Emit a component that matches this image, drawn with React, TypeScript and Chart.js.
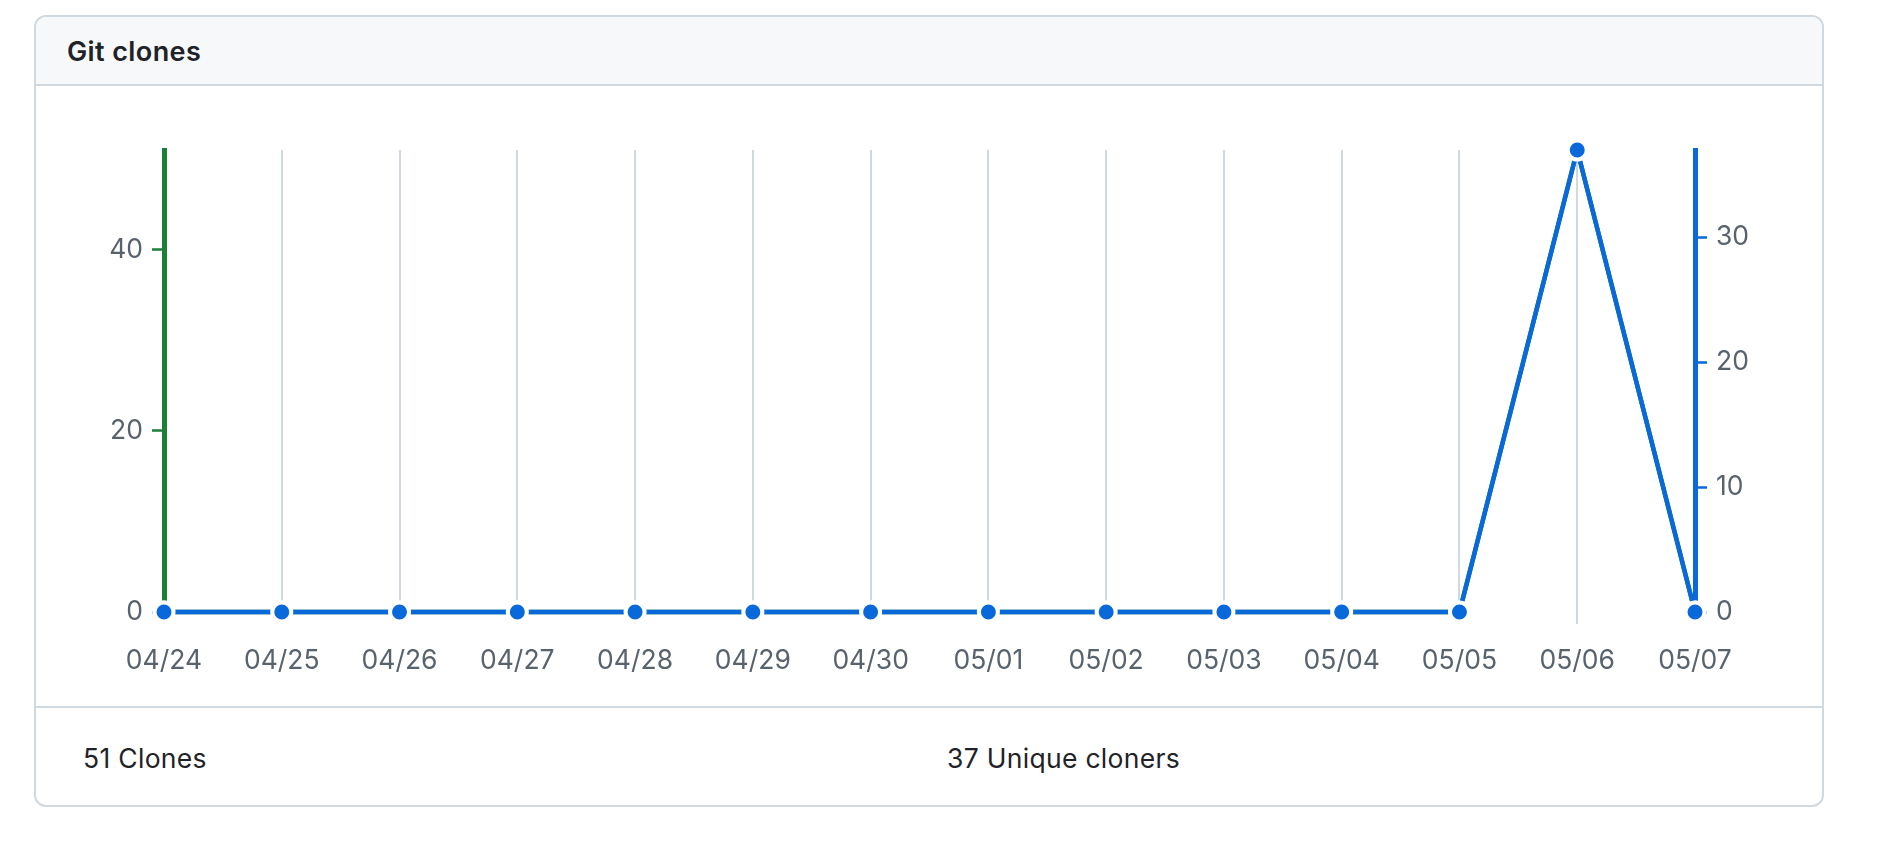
import React, { useEffect, useRef } from "react";
import { Chart, registerables } from "chart.js";

Chart.register(...registerables);

// Daily traffic for the repository
const dates = [
  "04/24", "04/25", "04/26", "04/27", "04/28", "04/29", "04/30",
  "05/01", "05/02", "05/03", "05/04", "05/05", "05/06", "05/07",
];
const clones = [0, 0, 0, 0, 0, 0, 0, 0, 0, 0, 0, 0, 51, 0];
const uniqueCloners = [0, 0, 0, 0, 0, 0, 0, 0, 0, 0, 0, 0, 37, 0];
const totalClones = 51;
const totalUniqueCloners = 37;

const GREEN = "#1a7f37";
const BLUE = "#0969da";
const GRID = "#d1d9e0";
const MUTED = "#59636e";
const FONT = "Inter, 'Noto Sans', sans-serif";

function ClonesChart() {
  const canvasRef = useRef<HTMLCanvasElement | null>(null);

  useEffect(() => {
    if (!canvasRef.current) return;
    const tickFont = { family: FONT, size: 26.5 };
    const chart = new Chart(canvasRef.current, {
      type: "line",
      data: {
        labels: dates,
        datasets: [
          {
            label: "Clones",
            data: clones,
            yAxisID: "yClones",
            borderColor: GREEN,
            backgroundColor: GREEN,
            borderWidth: 4.5,
            pointRadius: 9.5,
            pointBorderWidth: 4,
            pointBorderColor: "#ffffff",
            pointBackgroundColor: GREEN,
            order: 1,
            clip: false,
          },
          {
            label: "Unique cloners",
            data: uniqueCloners,
            yAxisID: "yUnique",
            borderColor: BLUE,
            backgroundColor: BLUE,
            borderWidth: 4.5,
            pointRadius: 9.5,
            pointBorderWidth: 4,
            pointBorderColor: "#ffffff",
            pointBackgroundColor: BLUE,
            order: 0,
            clip: false,
          },
        ],
      },
      options: {
        animation: false,
        responsive: false,
        maintainAspectRatio: false,
        layout: { padding: { top: 64, left: 0, right: 0, bottom: 0 } },
        plugins: {
          legend: { display: false },
          tooltip: { enabled: false },
        },
        scales: {
          x: {
            type: "category",
            offset: false,
            border: { display: false },
            grid: {
              display: true,
              color: GRID,
              lineWidth: 2,
              drawTicks: true,
              tickLength: 12,
              tickColor: GRID,
            },
            ticks: {
              color: MUTED,
              font: tickFont,
              padding: 21,
              maxRotation: 0,
              autoSkip: false,
            },
            afterFit: (scale: any) => {
              scale.height = 94;
            },
          },
          yClones: {
            type: "linear",
            position: "left",
            min: 0,
            max: Math.max(...clones),
            border: { display: true, color: GREEN, width: 5 },
            grid: {
              display: true,
              drawOnChartArea: false,
              drawTicks: true,
              tickLength: 12,
              tickColor: GREEN,
              tickWidth: 2.5,
              color: GREEN,
            },
            ticks: {
              stepSize: 20,
              includeBounds: false,
              color: MUTED,
              font: tickFont,
              padding: 9,
            },
            afterFit: (scale: any) => {
              scale.width = 128;
            },
          },
          yUnique: {
            type: "linear",
            position: "right",
            min: 0,
            max: Math.max(...uniqueCloners),
            border: { display: true, color: BLUE, width: 5 },
            grid: {
              display: true,
              drawOnChartArea: false,
              drawTicks: true,
              tickLength: 12,
              tickColor: BLUE,
              tickWidth: 2.5,
              color: BLUE,
            },
            ticks: {
              stepSize: 10,
              includeBounds: false,
              color: MUTED,
              font: tickFont,
              padding: 9,
            },
            afterFit: (scale: any) => {
              scale.width = 127;
            },
          },
        },
      },
    });
    return () => chart.destroy();
  }, []);

  return <canvas ref={canvasRef} width={1786} height={620} style={{ display: "block" }} />;
}

export default function App() {
  return (
    <div style={{ position: "absolute", left: 0, top: 0, width: 1882, height: 844, background: "#ffffff" }}>
      <div
        style={{
          position: "absolute",
          left: 34,
          top: 15,
          width: 1790,
          height: 792,
          boxSizing: "border-box",
          border: `2px solid ${GRID}`,
          borderRadius: 12,
          overflow: "hidden",
          background: "#ffffff",
          fontFamily: FONT,
        }}
      >
        <div
          style={{
            height: 67,
            boxSizing: "content-box",
            borderBottom: `2px solid ${GRID}`,
            background: "#f6f8fa",
            display: "flex",
            alignItems: "center",
            paddingLeft: 31,
          }}
        >
          <span style={{ fontSize: 27, fontWeight: 600, letterSpacing: 0.4, color: "#1f2328", paddingTop: 2 }}>
            Git clones
          </span>
        </div>
        <div style={{ height: 620 }}>
          <ClonesChart />
        </div>
        <div
          style={{
            borderTop: `2px solid ${GRID}`,
            height: 97,
            display: "flex",
            alignItems: "center",
            paddingLeft: 47,
            boxSizing: "border-box",
            fontSize: 26.5,
            letterSpacing: 0.3,
            color: "#1f2328",
          }}
        >
          <span style={{ width: 864, display: "inline-block", paddingTop: 5 }}>{totalClones} Clones</span>
          <span style={{ display: "inline-block", paddingTop: 5 }}>{totalUniqueCloners} Unique cloners</span>
        </div>
      </div>
    </div>
  );
}
